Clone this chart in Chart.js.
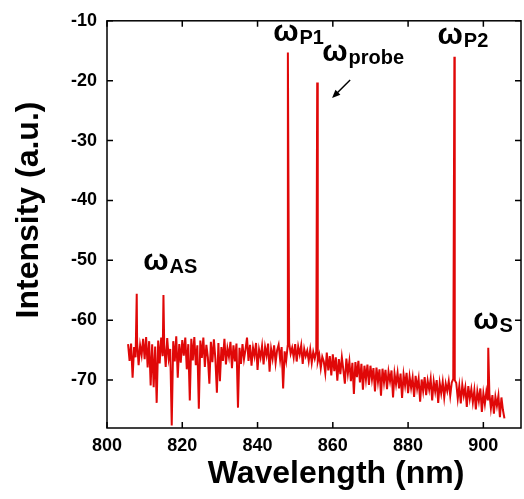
<!DOCTYPE html>
<html>
<head>
<meta charset="utf-8">
<script src="https://cdn.jsdelivr.net/npm/chart.js@4.4.1/dist/chart.umd.min.js"></script>
<style>
  html, body { margin: 0; padding: 0; background: #fff; }
</style>
</head>
<body>
<canvas id="myChart" width="524" height="499"></canvas>
<script>
// spectrum data
const startNm = 805.6;   // first sample of the spectrum
const stepNm = 0.4;      // sample spacing
const noiseDb = [
  -64.0, -66.8, -63.9, -69.6, -64.5, -66.2, -63.6, -67.5, -64.2, -65.8,
  -63.1, -66.5, -62.8, -67.9, -63.5, -70.9, -64.0, -71.2, -64.4, -73.8,
  -63.4, -67.2, -62.9, -66.0, -64.1, -67.8, -63.0, -66.4, -64.8, -77.6,
  -63.5, -66.9, -62.7, -69.6, -64.0, -67.1, -63.3, -65.9, -62.9, -68.2,
  -64.0, -73.4, -63.1, -66.7, -62.8, -67.5, -64.2, -74.8, -63.4, -66.3,
  -62.9, -67.8, -64.1, -66.2, -70.6, -63.6, -67.0, -63.2, -66.5, -72.1,
  -63.8, -70.2, -64.5, -66.8, -63.1, -67.4, -64.7, -66.1, -63.6, -68.0,
  -64.2, -66.9, -63.9, -74.6, -64.6, -67.3, -64.0, -66.5, -64.9, -62.9,
  -66.8, -64.1, -67.6, -64.6, -66.0, -63.8, -68.3, -64.9, -66.2, -64.3,
  -67.4, -64.5, -65.9, -63.9, -68.6, -64.8, -66.4, -64.2, -67.1, -65.0,
  -64.1, -66.6, -64.5, -71.4, -65.2, -66.8, -64.3, -63.8, -65.6, -64.6,
  -66.2, -64.0, -66.9, -64.4, -65.7, -64.2, -67.3, -64.8, -66.0, -65.1,
  -66.8, -64.9, -67.1, -65.3, -66.4, -65.2, -66.9, -65.8, -68.0, -66.1,
  -66.9, -68.8, -65.4, -68.4, -66.0, -69.2, -65.7, -68.5, -66.2, -70.1,
  -66.5, -69.0, -66.2, -68.3, -70.6, -66.4, -68.9, -66.9, -70.2, -67.1,
  -72.3, -67.0, -69.5, -66.8, -70.4, -67.3, -71.6, -67.6, -69.9, -67.4,
  -70.8, -67.6, -69.9, -68.0, -71.9, -67.9, -70.3, -68.2, -72.6, -68.1,
  -70.4, -68.3, -71.5, -68.6, -70.2, -68.4, -72.9, -68.9, -70.7, -68.8,
  -71.4, -68.9, -73.0, -69.1, -70.9, -68.8, -72.2, -69.4, -71.3, -69.6,
  -72.8, -69.3, -71.4, -69.8, -73.6, -69.9, -71.8, -69.5, -72.5, -70.1,
  -71.6, -69.8, -73.4, -70.2, -71.9, -70.0, -73.8, -70.5, -72.2, -70.3,
  -72.9, -70.6, -71.8, -70.2, -72.6, -70.4, -69.8, -70.0, -70.5, -73.1,
  -71.0, -73.9, -70.8, -72.6, -71.2, -74.5, -71.0, -73.1, -71.5, -73.7,
  -71.7, -74.9, -71.9, -73.5, -71.4, -75.3, -72.2, -74.0, -71.9, -73.4,
  -72.2, -74.7, -72.5, -75.6, -72.8, -74.3, -72.6, -76.2, -72.9, -75.0,
  -76.4
];
const peakNm = [807.9, 815.0, 848.06, 855.85, 892.3, 901.3];
const peakDb = [-55.6, -55.8, -15.3, -20.3, -16.0, -64.6];

const xTicks = [800, 820, 840, 860, 880, 900];
const yTicks = [-10, -20, -30, -40, -50, -60, -70];

// peak labels, placed in data units
const labelSub = ["P1", "probe", "P2", "AS", "S"];
const labelNm = [844.15, 857.2, 887.8, 809.6, 897.3];
const labelDb = [-13.45, -16.74, -13.95, -51.6, -61.5];

// arrow pointing at the probe line
const arrowFrom = [864.6, -19.9];
const arrowTo = [859.8, -22.9];

const red = "#e00808";
const fontFam = "'Liberation Sans', Arial, sans-serif";

let points = noiseDb.map((v, i) => ({ x: +(startNm + i * stepNm).toFixed(2), y: v }));
peakNm.forEach((nm, i) => points.push({ x: nm, y: peakDb[i] }));
points.sort((a, b) => a.x - b.x);

const framePlugin = {
  id: "frame",
  afterDraw(chart) {
    const ctx = chart.ctx;
    const { left, right, top, bottom } = chart.chartArea;
    const xs = chart.scales.x;
    const ys = chart.scales.y;
    const tickLen = 6;
    ctx.save();
    ctx.strokeStyle = "#000";
    ctx.lineWidth = 1.5;
    ctx.strokeRect(left, top, right - left, bottom - top);
    ctx.beginPath();
    xTicks.forEach(v => {
      const px = xs.getPixelForValue(v);
      ctx.moveTo(px, bottom); ctx.lineTo(px, bottom - tickLen);
      ctx.moveTo(px, top); ctx.lineTo(px, top + tickLen);
    });
    yTicks.forEach(v => {
      const py = ys.getPixelForValue(v);
      ctx.moveTo(left, py); ctx.lineTo(left + tickLen, py);
      ctx.moveTo(right, py); ctx.lineTo(right - tickLen, py);
    });
    ctx.stroke();

    // axis titles
    ctx.fillStyle = "#000";
    ctx.font = "bold 32px " + fontFam;
    ctx.textAlign = "center";
    ctx.textBaseline = "alphabetic";
    ctx.fillText("Wavelength (nm)", 336, 483);
    ctx.save();
    ctx.translate(38, 210);
    ctx.rotate(-Math.PI / 2);
    ctx.fillText("Intensity (a.u.)", 0, 0);
    ctx.restore();

    // peak labels
    ctx.textAlign = "left";
    labelSub.forEach((sub, i) => {
      const px = xs.getPixelForValue(labelNm[i]);
      const py = ys.getPixelForValue(labelDb[i]);
      ctx.font = "bold 30px " + fontFam;
      ctx.fillText("ω", px, py);
      const w = ctx.measureText("ω").width;
      ctx.font = "bold 20px " + fontFam;
      ctx.fillText(sub, px + w + 1, py + 3);
    });

    // arrow
    const x0 = xs.getPixelForValue(arrowFrom[0]), y0 = ys.getPixelForValue(arrowFrom[1]);
    const x1 = xs.getPixelForValue(arrowTo[0]), y1 = ys.getPixelForValue(arrowTo[1]);
    const ang = Math.atan2(y1 - y0, x1 - x0);
    ctx.lineWidth = 1.5;
    ctx.beginPath();
    ctx.moveTo(x0, y0);
    ctx.lineTo(x1 - 5 * Math.cos(ang), y1 - 5 * Math.sin(ang));
    ctx.stroke();
    ctx.beginPath();
    ctx.moveTo(x1, y1);
    ctx.lineTo(x1 - 9 * Math.cos(ang - 0.4), y1 - 9 * Math.sin(ang - 0.4));
    ctx.lineTo(x1 - 9 * Math.cos(ang + 0.4), y1 - 9 * Math.sin(ang + 0.4));
    ctx.closePath();
    ctx.fill();
    ctx.restore();
  }
};

const ctx = document.getElementById("myChart").getContext("2d");
new Chart(ctx, {
  type: "line",
  data: {
    datasets: [{
      data: points,
      borderColor: red,
      borderWidth: 2,
      pointRadius: 0,
      tension: 0,
      fill: false
    }]
  },
  options: {
    responsive: false,
    animation: false,
    devicePixelRatio: 1,
    layout: { padding: { left: 0, top: 14, right: 3, bottom: 0 } },
    plugins: { legend: { display: false }, tooltip: { enabled: false } },
    scales: {
      x: {
        type: "linear",
        min: 800,
        max: 910,
        afterBuildTicks: s => { s.ticks = xTicks.map(v => ({ value: v })); },
        afterFit: s => { s.height = 71; },
        grid: { display: false, drawTicks: false },
        border: { display: false },
        ticks: { color: "#000", padding: 7, maxRotation: 0, font: { family: fontFam, size: 18, weight: "bold" } }
      },
      y: {
        min: -78,
        max: -10,
        afterBuildTicks: s => { s.ticks = yTicks.map(v => ({ value: v })); },
        afterFit: s => { s.width = 107; },
        grid: { display: false, drawTicks: false },
        border: { display: false },
        ticks: { color: "#000", padding: 10, font: { family: fontFam, size: 18, weight: "bold" } }
      }
    }
  },
  plugins: [framePlugin]
});
</script>
</body>
</html>
